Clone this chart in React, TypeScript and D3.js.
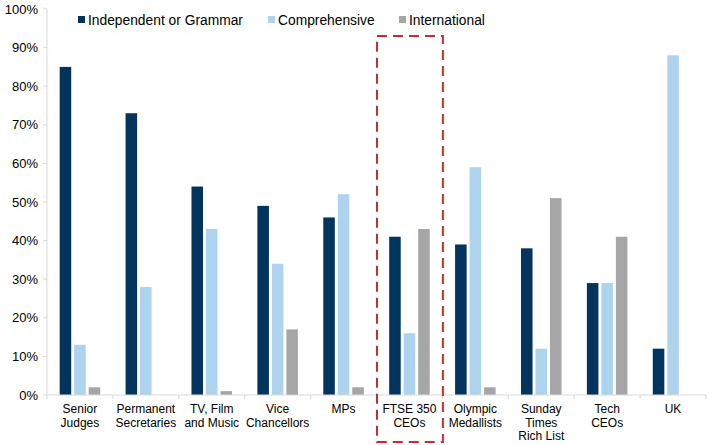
import React from "react";
import * as d3 from "d3";

const categories = [
  ["Senior", "Judges"],
  ["Permanent", "Secretaries"],
  ["TV, Film", "and Music"],
  ["Vice", "Chancellors"],
  ["MPs"],
  ["FTSE 350", "CEOs"],
  ["Olympic", "Medallists"],
  ["Sunday", "Times", "Rich List"],
  ["Tech", "CEOs"],
  ["UK"],
];
const independent = [85, 73, 54, 49, 46, 41, 39, 38, 29, 12];
const comprehensive = [13, 28, 43, 34, 52, 16, 59, 12, 29, 88];
const international = [2, 0, 1, 17, 2, 43, 2, 51, 41, 0];
const seriesNames = ["Independent or Grammar", "Comprehensive", "International"];
const yTicks = [0, 10, 20, 30, 40, 50, 60, 70, 80, 90, 100];
const highlighted = 5;

const colors = ["#03345E", "#AED3EF", "#A6A6A6"];
const font = "Arial, 'Liberation Sans', sans-serif";

export default function App() {
  const W = 721, H = 445;
  const left = 47, right = 706, top = 9, bottom = 395;
  const series = [independent, comprehensive, international];

  const x = d3.scaleBand<number>().domain(d3.range(categories.length)).range([left, right]);
  const y = d3.scaleLinear().domain([0, 100]).range([bottom, top]);
  const bw = x.bandwidth() * 0.175;
  const step = x.bandwidth() * 0.22;
  const inner = d3.scaleLinear().domain([0, 2]).range([-step, step]);

  const legendX = [78, 268, 399];

  return (
    <svg width={W} height={H} style={{ position: "absolute", left: 0, top: 0, background: "#fff" }} fontFamily={font}>
      {/* bars */}
      {series.map((vals, s) =>
        vals.map((v, i) => {
          const cx = x(i)! + x.bandwidth() / 2 + inner(s);
          return (
            <rect key={`${s}-${i}`} x={cx - bw / 2} y={y(v)} width={bw} height={bottom - y(v)} fill={colors[s]} />
          );
        })
      )}

      {/* y axis */}
      <line x1={left} x2={left} y1={top} y2={bottom} stroke="#D9D9D9" strokeWidth={1} />
      {yTicks.map((t) => (
        <g key={t}>
          <line x1={left - 4} x2={left} y1={y(t)} y2={y(t)} stroke="#D9D9D9" />
          <text x={38} y={y(t) + 4.5} textAnchor="end" fontSize={13} fill="#000">{`${t}%`}</text>
        </g>
      ))}

      {/* x axis */}
      <line x1={left} x2={right} y1={bottom} y2={bottom} stroke="#D9D9D9" strokeWidth={1} />
      {d3.range(categories.length + 1).map((i) => {
        const xx = i < categories.length ? x(i)! : right;
        return <line key={i} x1={xx} x2={xx} y1={bottom} y2={bottom + 4} stroke="#D9D9D9" />;
      })}
      {categories.map((lines, i) => (
        <text key={i} textAnchor="middle" fontSize={12} fill="#000">
          {lines.map((l, j) => (
            <tspan key={j} x={x(i)! + x.bandwidth() / 2} y={413 + j * 13.5}>{l}</tspan>
          ))}
        </text>
      ))}

      {/* legend */}
      {seriesNames.map((n, s) => (
        <g key={n}>
          <rect x={legendX[s]} y={16} width={7} height={7} fill={colors[s]} />
          <text x={legendX[s] + 10} y={24.5} fontSize={13.8} fill="#000">{n}</text>
        </g>
      ))}

      {/* highlight box */}
      <rect
        x={x(highlighted)! + 0.5}
        y={y(93)}
        width={x.bandwidth()}
        height={442 - y(93)}
        fill="none"
        stroke="#C0302F"
        strokeWidth={2}
        strokeDasharray="10,6"
      />
    </svg>
  );
}
